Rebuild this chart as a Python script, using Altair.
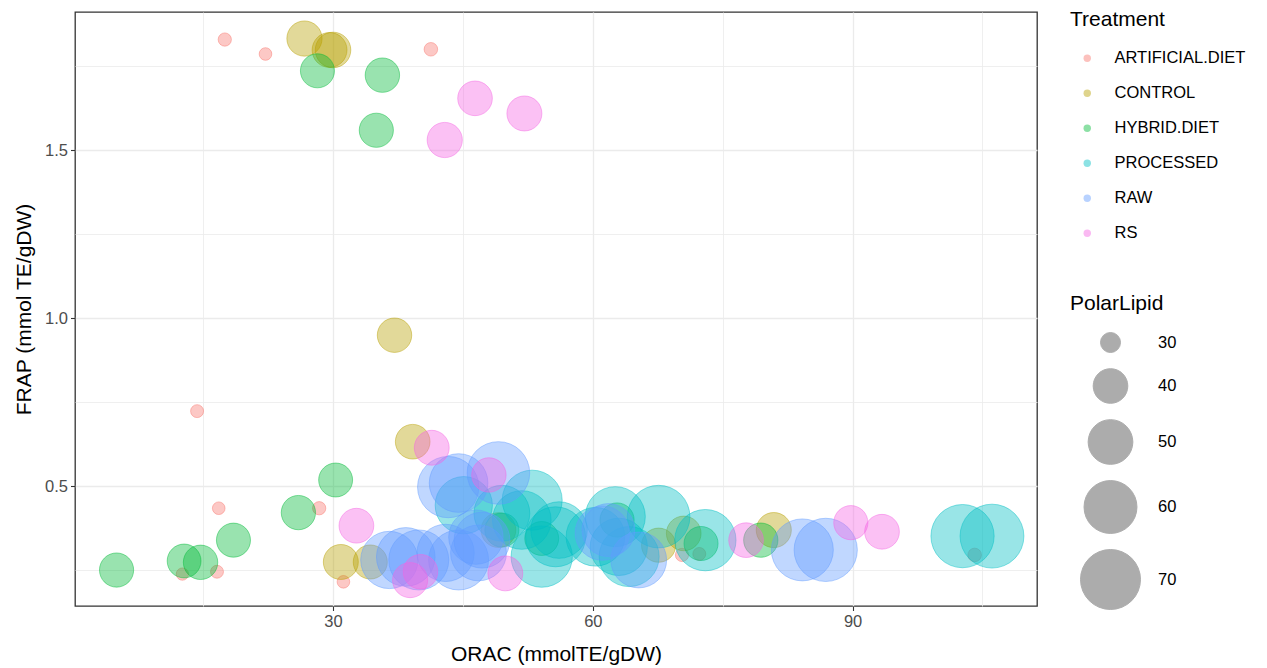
import altair as alt
import pandas as pd

treatments = ["ARTIFICIAL.DIET", "CONTROL", "HYBRID.DIET", "PROCESSED", "RAW", "RS"]
palette = ["#F8766D", "#B79F00", "#00BA38", "#00BFC4", "#619CFF", "#F564E3"]

art_orac = [17.5, 22.2, 41.3, 14.3, 16.8, 28.4, 12.6, 16.6, 31.2, 70.3, 72.3, 104.1]
art_frap = [1.829, 1.786, 1.800, 0.723, 0.434, 0.434, 0.238, 0.245, 0.215, 0.295, 0.298, 0.295]
art_pl = [27.2, 27.0, 27.3, 27.1, 27.0, 27.2, 26.9, 27.1, 27.0, 27.2, 27.1, 27.3]

ctl_orac = [26.7, 29.6, 30.0, 37.1, 39.2, 30.9, 34.3, 49.1, 67.6, 70.5, 80.9]
ctl_frap = [1.832, 1.798, 1.798, 0.949, 0.632, 0.274, 0.274, 0.369, 0.324, 0.359, 0.369]
ctl_pl = [40.5, 40.2, 40.8, 39.8, 40.0, 40.3, 39.5, 40.1, 39.6, 40.0, 40.4]

hyb_orac = [28.2, 35.7, 35.0, 30.3, 26.0, 18.5, 5.0, 12.8, 14.7, 49.5, 54.1, 62.8, 72.5, 79.4]
hyb_frap = [1.736, 1.723, 1.559, 0.518, 0.421, 0.339, 0.250, 0.277, 0.273, 0.369, 0.344, 0.399, 0.329, 0.339]
hyb_pl = [39.5, 39.8, 39.6, 39.4, 39.7, 39.5, 39.6, 39.3, 39.8, 39.5, 39.4, 39.6, 39.5, 39.7]

pro_orac = [45.1, 53.0, 49.5, 51.8, 55.7, 54.1, 56.1, 60.3, 62.6, 67.6, 63.0, 64.2, 73.0, 102.7, 106.1]
pro_frap = [0.443, 0.458, 0.419, 0.399, 0.349, 0.290, 0.369, 0.349, 0.409, 0.409, 0.319, 0.290, 0.339, 0.351, 0.351]
pro_pl = [66, 70, 64, 68, 70, 72, 65, 68, 70, 74, 66, 70, 72, 75, 76]

raw_orac = [43.3, 44.5, 49.1, 36.5, 38.4, 39.9, 43.0, 44.5, 46.8, 46.5, 47.2, 61.1, 61.8, 65.3, 84.2, 86.9]
raw_frap = [0.497, 0.509, 0.539, 0.280, 0.289, 0.280, 0.301, 0.280, 0.301, 0.348, 0.339, 0.360, 0.369, 0.280, 0.310, 0.310]
raw_pl = [72, 68, 74, 66, 68, 70, 66, 70, 64, 62, 64, 62, 60, 64, 73, 75]

rs_orac = [46.4, 52.1, 42.9, 41.4, 48.0, 32.7, 38.9, 40.1, 49.9, 77.7, 89.8, 93.4]
rs_frap = [1.654, 1.609, 1.530, 0.614, 0.533, 0.382, 0.220, 0.245, 0.240, 0.339, 0.391, 0.364]
rs_pl = [40.0, 40.3, 40.5, 40.2, 39.8, 40.1, 40.4, 39.9, 40.2, 40.0, 39.6, 40.1]

x_ticks = [15, 30, 45, 60, 75, 90, 105]
y_ticks = [0.25, 0.5, 0.75, 1.0, 1.25, 1.5, 1.75]
size_breaks = [30, 40, 50, 60, 70]

groups = [
    ("ARTIFICIAL.DIET", art_orac, art_frap, art_pl),
    ("CONTROL", ctl_orac, ctl_frap, ctl_pl),
    ("HYBRID.DIET", hyb_orac, hyb_frap, hyb_pl),
    ("PROCESSED", pro_orac, pro_frap, pro_pl),
    ("RAW", raw_orac, raw_frap, raw_pl),
    ("RS", rs_orac, rs_frap, rs_pl),
]
rows = []
for name, xs, ys, ss in groups:
    for a, b, c in zip(xs, ys, ss):
        rows.append({"Treatment": name, "ORAC": a, "FRAP": b, "PolarLipid": c})
df = pd.DataFrame(rows)

FONT = "Liberation Sans"
color_scale = alt.Scale(domain=treatments, range=palette)

chart = alt.Chart(df).mark_circle(
    fillOpacity=0.4, strokeOpacity=0.45, strokeWidth=1
).encode(
    x=alt.X("ORAC:Q", title="ORAC (mmolTE/gDW)",
            scale=alt.Scale(domain=[0.2, 111.3], nice=False, zero=False),
            axis=alt.Axis(values=x_ticks,
                          labelExpr="datum.value % 30 === 0 ? datum.label : ''",
                          gridWidth={"condition": {"test": "datum.value % 30 === 0", "value": 1.3}, "value": 0.8},
                          tickOpacity={"condition": {"test": "datum.value % 30 === 0", "value": 1}, "value": 0},
                          titlePadding=13)),
    y=alt.Y("FRAP:Q", title="FRAP (mmol TE/gDW)",
            scale=alt.Scale(domain=[0.143, 1.911], nice=False, zero=False),
            axis=alt.Axis(values=y_ticks, format=".1f",
                          labelExpr="(datum.value * 4) % 2 === 0 ? datum.label : ''",
                          gridWidth={"condition": {"test": "(datum.value * 4) % 2 === 0", "value": 1.3}, "value": 0.8},
                          tickOpacity={"condition": {"test": "(datum.value * 4) % 2 === 0", "value": 1}, "value": 0},
                          titlePadding=10)),
    color=alt.Color("Treatment:N", scale=color_scale,
                    legend=alt.Legend(title="Treatment", symbolType="circle", symbolSize=55,
                                      symbolOpacity=0.45, symbolStrokeWidth=0,
                                      symbolOffset=9, labelOffset=19, rowPadding=18,
                                      titlePadding=20, orient="none", legendX=995, legendY=-3)),
    stroke=alt.Stroke("Treatment:N", scale=color_scale, legend=None),
    size=alt.Size("PolarLipid:Q",
                  scale=alt.Scale(domain=[30, 70], range=[400, 3600], zero=False),
                  legend=alt.Legend(title="PolarLipid", values=size_breaks, symbolType="circle",
                                    symbolFillColor="#000000", symbolStrokeColor="#000000",
                                    symbolOpacity=0.32, symbolStrokeWidth=1,
                                    symbolOffset=10, labelOffset=17, rowPadding=11,
                                    titlePadding=18, orient="none", legendX=995, legendY=281)),
).properties(
    width=962, height=594,
    autosize=alt.AutoSizeParams(type="none"),
    padding={"left": 75, "top": 12, "right": 230, "bottom": 62},
).configure_view(
    stroke="#333333", strokeWidth=1.3
).configure_axis(
    domain=False, gridColor="#EBEBEB", tickColor="#333333", tickSize=4.5, tickWidth=1.1,
    labelFont=FONT, labelFontSize=16.5, labelColor="#4D4D4D", labelPadding=3,
    titleFont=FONT, titleFontSize=21, titleColor="#000000", titleFontWeight="normal"
).configure_legend(
    labelFont=FONT, labelFontSize=16.5, labelColor="#000000",
    titleFont=FONT, titleFontSize=21, titleColor="#000000", titleFontWeight="normal"
)

chart.save("out.html", embed_options={"renderer": "svg", "actions": False})
